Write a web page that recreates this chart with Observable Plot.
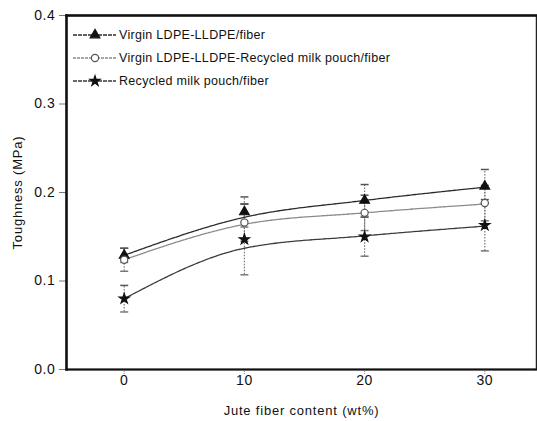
<!DOCTYPE html>
<html>
<head>
<meta charset="utf-8">
<script src="https://cdn.jsdelivr.net/npm/d3@7"></script>
<script src="https://cdn.jsdelivr.net/npm/@observablehq/plot@0.6"></script>
<style>
  body { margin: 0; background: #fff; }
  #chart { position: relative; width: 537px; height: 421px; }
  svg { font-family: "Liberation Sans", Arial, sans-serif; }
  g[aria-label="x-axis tick label"], g[aria-label="y-axis tick label"] { letter-spacing: 0.6px; }
  g[aria-label="x-axis label"], g[aria-label="y-axis label"] { letter-spacing: 0.8px; }
</style>
</head>
<body>
<div id="chart"></div>
<script>
// ---- data ----
const fiberContent = [0, 10, 20, 30];
const seriesNames = [
  "Virgin LDPE-LLDPE/fiber",
  "Virgin LDPE-LLDPE-Recycled milk pouch/fiber",
  "Recycled milk pouch/fiber"
];
// measured points
const virginPts   = [0.129, 0.178, 0.191, 0.207];
const blendPts    = [0.124, 0.166, 0.177, 0.188];
const recycledPts = [0.080, 0.147, 0.150, 0.163];
// error (±)
const virginErr   = [0.008, 0.017, 0.018, 0.019];
const blendErr    = [0.013, 0.021, 0.020, 0.020];
const recycledErr = [0.015, 0.040, 0.022, 0.029];
// fitted trend curves drawn through the points
const virginFit   = [0.129, 0.172, 0.191, 0.206];
const blendFit    = [0.124, 0.164, 0.177, 0.187];
const recycledFit = [0.080, 0.137, 0.151, 0.162];
const yTicks = [0.0, 0.1, 0.2, 0.3, 0.4];
const xTicks = [0, 10, 20, 30];

const symbols = ["triangle", "circle", "star"];
const symR = [3.6, 3.6, 3.2];
const lineColors = ["#2a2a2a", "#8a8a8a", "#3a3a3a"];
const fills = ["#111", "#fff", "#111"];
const dotStrokes = ["#111", "#555", "#111"];

const pts = [virginPts, blendPts, recycledPts];
const errs = [virginErr, blendErr, recycledErr];
const fits = [virginFit, blendFit, recycledFit];

const points = [], fitRows = [];
seriesNames.forEach((s, i) => {
  fiberContent.forEach((x, j) => {
    points.push({series: s, idx: i, x, y: pts[i][j], lo: pts[i][j] - errs[i][j], hi: pts[i][j] + errs[i][j]});
    fitRows.push({series: s, idx: i, x, y: fits[i][j]});
  });
});

const cap = { draw(ctx, size) { const w = 4; ctx.moveTo(-w, 0); ctx.lineTo(w, 0); } };

const plot = Plot.plot({
  width: 537,
  height: 421,
  marginLeft: 66,
  marginRight: 1,
  marginTop: 15,
  marginBottom: 52,
  style: { fontFamily: "Liberation Sans, Arial, sans-serif", fontSize: "12px", color: "#111" },
  x: { domain: [-4.8, 34.3] },
  y: { domain: [0, 0.4] },
  marks: [
    Plot.axisY({ ticks: yTicks, tickFormat: d3.format(".1f"), tickSize: 7, tickPadding: 4, stroke: "#777",
      label: null, fontSize: 14 }),
    Plot.axisY({ ticks: [], label: "Toughness (MPa)", labelAnchor: "center", labelArrow: "none",
      labelOffset: 54, fontSize: 13 }),
    Plot.axisX({ ticks: xTicks, tickSize: 5, tickPadding: 1, stroke: "#888", strokeDasharray: "1,1",
      label: null, fontSize: 14 }),
    Plot.axisX({ ticks: [], label: "Jute fiber content (wt%)", labelAnchor: "center", labelArrow: "none",
      labelOffset: 45, fontSize: 13 }),
    // error bars
    Plot.ruleX(points, { x: "x", y1: "lo", y2: "hi", stroke: "#777", strokeWidth: 1.2, strokeDasharray: "1.5,1.5" }),
    Plot.dot(points, { x: "x", y: "hi", symbol: () => cap, stroke: "#555", strokeWidth: 1.5, r: 3 }),
    Plot.dot(points, { x: "x", y: "lo", symbol: () => cap, stroke: "#777", strokeWidth: 1.5, r: 3 }),
    // trend curves
    ...[0, 1, 2].map(i => Plot.line(fitRows.filter(d => d.idx === i), {
      x: "x", y: "y", curve: "monotone-x", stroke: lineColors[i], strokeWidth: 1.3, strokeDasharray: i === 1 ? "3,1" : "4,1"
    })),
    // markers
    ...[0, 1, 2].map(i => Plot.dot(points.filter(d => d.idx === i), {
      x: "x", y: "y", symbol: symbols[i], r: symR[i], fill: fills[i], stroke: dotStrokes[i], strokeWidth: 1.2
    })),
    Plot.frame({ stroke: "#222", strokeWidth: 1.5 }),
    Plot.frame({ anchor: "left", stroke: "#111", strokeWidth: 2.5 }),
    Plot.frame({ anchor: "top", stroke: "#111", strokeWidth: 2.5 }),
    Plot.frame({ anchor: "bottom", stroke: "#111", strokeWidth: 2 })
  ]
});

document.getElementById("chart").appendChild(plot);

// in-plot legend (top-left)
const svg = d3.select(plot);
const lg = svg.append("g").attr("font-family", "Liberation Sans, Arial, sans-serif")
  .attr("font-size", 12.5).attr("text-anchor", "start").style("letter-spacing", "0.3px");
const rowY = [35, 58, 81];
const symType = { triangle: d3.symbolTriangle, circle: d3.symbolCircle, star: d3.symbolStar };
seriesNames.forEach((name, i) => {
  const g = lg.append("g").attr("transform", `translate(0,${rowY[i]})`);
  g.append("line").attr("x1", 73).attr("x2", 116).attr("y1", 0).attr("y2", 0)
    .attr("stroke", lineColors[i]).attr("stroke-width", 1.3).attr("stroke-dasharray", i === 1 ? "3,1" : "4,1");
  const r = symR[i];
  g.append("path").attr("transform", "translate(95,0)")
    .attr("d", d3.symbol(symType[symbols[i]], r * r * Math.PI)())
    .attr("fill", fills[i]).attr("stroke", dotStrokes[i]).attr("stroke-width", 1.2);
  g.append("text").attr("x", 119).attr("y", 0).attr("dy", "0.35em").attr("fill", "#111")
    .attr("text-anchor", "start").text(name);
});
</script>
</body>
</html>
